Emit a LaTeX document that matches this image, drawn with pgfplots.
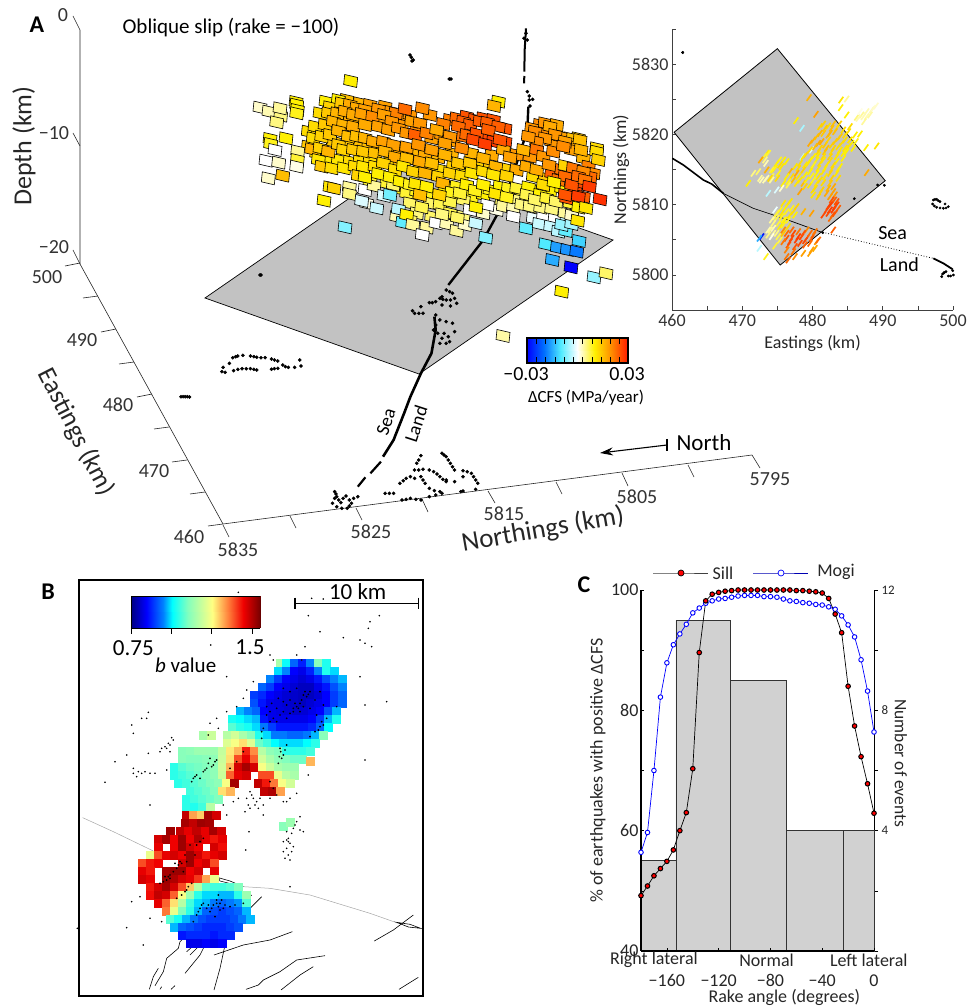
\documentclass[border=0pt]{standalone}
\usepackage{pgfplots}
\pgfplotsset{compat=1.18}
\usepackage{fontspec}
\usetikzlibrary{arrows.meta}
\setmainfont{Carlito}
\newcommand{\fs}[1]{\fontsize{#1}{#1}\selectfont}
\pgfdeclareplotmark{para}{\pgfpathmoveto{\pgfqpoint{-6pt}{6.5pt}}\pgfpathlineto{\pgfqpoint{7pt}{3.5pt}}\pgfpathlineto{\pgfqpoint{6pt}{-6.5pt}}\pgfpathlineto{\pgfqpoint{-7pt}{-3.5pt}}\pgfpathclose\pgfusepathqfillstroke}
\pgfdeclareplotmark{slip}{\pgfpathmoveto{\pgfqpoint{-2.3pt}{-3.2pt}}\pgfpathlineto{\pgfqpoint{2.3pt}{3.2pt}}\pgfusepathqstroke}
\pgfplotsset{
 colormap={cfs}{rgb255=(0,0,255) rgb255=(0,110,255) rgb255=(80,235,255) rgb255=(255,255,255) rgb255=(255,240,0) rgb255=(255,140,0) rgb255=(255,25,0)},
 colormap={jb}{rgb255(0pt)=(0,0,130) rgb255(12pt)=(0,0,255) rgb255(25pt)=(0,130,255) rgb255(32pt)=(0,255,255) rgb255(44pt)=(130,255,190) rgb255(63pt)=(255,255,130) rgb255(75pt)=(255,130,60) rgb255(87pt)=(240,0,0) rgb255(100pt)=(120,0,0)},
 pix/.style={hide axis,clip=false,scale only axis,anchor=south west,enlargelimits=false,y dir=reverse,axis line style={draw=none}},
 squares/.style={scatter,only marks,mark=para,point meta=explicit,line width=0.6pt,scatter/use mapped color={draw=black,fill=mapped color}},
 slips/.style={scatter,only marks,mark=slip,point meta=explicit,line width=1.7pt,scatter/use mapped color={draw=mapped color}},
 dots/.style={only marks,mark=*,mark size=1.6pt,black,mark options={draw=none,fill=black}},
}
\begin{document}
\begin{tikzpicture}
\path[use as bounding box] (0pt,0pt) rectangle (969pt,1006pt);

% ---------- base pixel axis: panel A frame and labels
\begin{axis}[pix,at={(0pt,0pt)},width=969pt,height=1006pt,xmin=0,xmax=969,ymin=0,ymax=1006]
\addplot[black!85,line width=0.6pt] coordinates {(73,16)(80,30)(80,264)(223,524)(752,455)};
\addplot[black!85,line width=0.6pt] coordinates {(73,133)(80,146)};
\addplot[black!85,line width=0.6pt] coordinates {(73,250)(80,264)};
\addplot[black!85,line width=0.6pt] coordinates {(65,266)(80,263)};
\addplot[black!85,line width=0.6pt] coordinates {(83,298)(98,296)};
\addplot[black!85,line width=0.6pt] coordinates {(101,332)(116,329)};
\addplot[black!85,line width=0.6pt] coordinates {(119,364)(134,362)};
\addplot[black!85,line width=0.6pt] coordinates {(137,397)(152,394)};
\addplot[black!85,line width=0.6pt] coordinates {(154,429)(169,427)};
\addplot[black!85,line width=0.6pt] coordinates {(172,462)(187,460)};
\addplot[black!85,line width=0.6pt] coordinates {(190,494)(205,492)};
\addplot[black!85,line width=0.6pt] coordinates {(208,526)(223,524)};
\addplot[black!85,line width=0.6pt] coordinates {(223,525)(229,537)};
\addplot[black!85,line width=0.6pt] coordinates {(290,516)(296,528)};
\addplot[black!85,line width=0.6pt] coordinates {(356,508)(362,520)};
\addplot[black!85,line width=0.6pt] coordinates {(422,499)(428,512)};
\addplot[black!85,line width=0.6pt] coordinates {(488,491)(495,503)};
\addplot[black!85,line width=0.6pt] coordinates {(556,482)(562,494)};
\addplot[black!85,line width=0.6pt] coordinates {(622,473)(628,486)};
\addplot[black!85,line width=0.6pt] coordinates {(688,465)(694,477)};
\addplot[black!85,line width=0.6pt] coordinates {(752,455)(760,468)};
\addplot[fill=black!24,draw=black,line width=0.7pt] coordinates {(205,298)(419,374)(613,240)(399,164)} -- cycle;
\addplot[black,line width=1.1pt,-{Stealth[length=13pt,width=8pt]}] coordinates {(667,445)(600,453)};
\addplot[black,line width=1.1pt] coordinates {(667,439)(667,451)};
\node[font=\fs{24}\bfseries] at (37,25) {A};
\node[font=\fs{21}] at (231,28) {Oblique slip (rake = −100)};
\node[font=\fs{26},rotate=90,text=black!85] at (24,146) {Depth (km)};
\node[font=\fs{26},rotate=-63,text=black!85] at (76,432) {Eastings (km)};
\node[font=\fs{27},rotate=10,text=black!85] at (543,530) {Northings (km)};
\node[font=\fs{20},text=black!80] at (63,15) {0};
\node[font=\fs{20},text=black!80] at (54,133) {−10};
\node[font=\fs{20},text=black!80] at (54,247) {−20};
\node[font=\fs{20},text=black!80] at (47,277) {500};
\node[font=\fs{20},text=black!80] at (82,340) {490};
\node[font=\fs{20},text=black!80] at (118,405) {480};
\node[font=\fs{20},text=black!80] at (154,471) {470};
\node[font=\fs{20},text=black!80] at (189,537) {460};
\node[font=\fs{20},text=black!80] at (238,550) {5835};
\node[font=\fs{20},text=black!80] at (371,532) {5825};
\node[font=\fs{20},text=black!80] at (504,514) {5815};
\node[font=\fs{20},text=black!80] at (637,497) {5805};
\node[font=\fs{20},text=black!80] at (770,479) {5795};
\node[font=\fs{23}] at (704,443) {North};
\node[font=\fs{19},rotate=72] at (386,422) {Sea};
\node[font=\fs{19},rotate=72] at (416,424) {Land};
\node[font=\fs{20}] at (526,374) {−0.03};
\node[font=\fs{20}] at (627,374) {0.03};
\node[font=\fs{17}] at (586,398) {ΔCFS (MPa/year)};
\node[font=\fs{24}\bfseries] at (48,592) {B};
\node[font=\fs{24}\bfseries] at (584,585) {C};
\end{axis}

% ---------- panel A fault planes (coordinates of a 3x crop of the region)
\begin{axis}[pix,at={(250pt,696pt)},width=370pt,height=240pt,xmin=0,xmax=1110,ymin=0,ymax=720,colormap name=cfs,point meta min=-3,point meta max=3]
\addplot[squares] coordinates {
(250,108)[1.2](290,90)[1.5](330,100)[1.6](360,105)[1.8](405,110)[1.8](420,125)[1.9](450,145)[2](480,135)[1.9](540,135)[1.9](600,150)[2.1](620,145)[2.3](650,140)[2.5](675,150)[2.5](700,145)[2.5](730,150)[2.5](765,175)[2.5]
(870,165)[2](885,160)[1.9](920,165)[1.7](985,205)[1.4](1040,235)[1.2](960,205)[1.5]
(175,185)[1.2](205,185)[1.3](270,150)[1.5](300,155)[1.7](330,150)[1.7](355,150)[1.8](400,160)[1.8](455,165)[1.9](500,175)[2](545,205)[1.8](575,195)[1.9](610,215)[1.8](640,200)[2.2](700,205)[2.6](730,215)[2.7](765,215)[2.6](845,175)[1.9](875,190)[2](905,215)[1.9](930,200)[1.8](970,230)[1.7]
(175,230)[1.4](200,250)[1.2](250,215)[1.4](300,225)[1.4](330,225)[1.5](355,235)[1.5](385,230)[1.6](415,235)[1.7](450,245)[1.7](490,250)[1.6](525,250)[1.7](565,262)[1.6](605,250)[1.6](665,250)[1.6](725,255)[1.7](760,240)[1.7](800,255)[1.9](840,260)[1.9](965,240)[1.8](1000,265)[1.6](1015,290)[2.1](1030,310)[2]
(230,270)[1.1](265,270)[1.1](300,275)[1.2](330,270)[1.2](360,270)[1.2](420,280)[1.3](450,275)[1.5](510,295)[1.3](540,300)[1.4](575,300)[1.2](610,290)[1.3](650,295)[1.2](690,285)[1.3](720,290)[1.4](760,295)[1.3](800,300)[1.7](850,320)[1.2](885,325)[1.4](905,310)[2.4](935,300)[2.2](955,315)[2.5](1020,320)[2.3](1000,345)[2.6](975,365)[2.6]
(360,335)[.8](410,340)[.8](440,355)[.9](470,370)[.8](500,365)[.9](540,370)[.9](585,350)[1](620,350)[.9](665,380)[.9](700,375)[1](720,360)[.9](750,350)[1](775,355)[.9](815,375)[.8](850,360)[1](900,360)[1](935,355)[1](960,400)[.8](1000,380)[2.4](755,400)[.6](800,390)[.5](480,400)[.6](540,400)[.6](570,405)[.7](640,390)[.6](430,345)[.6]
(350,400)[.1](440,440)[.3](500,430)[.5](545,440)[.6](600,430)[.7](640,440)[.5](480,450)[.6](700,430)[.2](740,420)[.1](850,445)[-.1](880,440)[0](915,445)[0](950,450)[-.3](760,410)[.4](790,415)[.3]
};
\addplot[squares] coordinates {
(30,113)[.2](57,125)[.3](92,137)[.5](80,157)[.5](90,115)[.4](138,96)[1](140,104)[1](142,120)[1](140,130)[.9]
(60,207)[1](62,222)[.9](108,205)[1](75,240)[0](48,272)[0](86,278)[.2](143,244)[.4](142,270)[.8](140,290)[.1](55,325)[.2](98,317)[1.5]
(240,352)[1.1](252,355)[1.3](298,352)[.4](298,372)[.5](222,392)[1](335,393)[-.2](380,415)[-.3](345,360)[0](372,348)[.4](402,378)[-.2](420,375)[-.8](445,418)[-.4]
(285,472)[-.7](458,458)[-.9](470,435)[1](488,465)[.4](530,473)[.4](517,495)[0](558,460)[0](590,462)[.3](620,483)[.4](645,465)[.2](622,443)[.6](576,433)[.5](515,412)[.7](600,395)[.7]
(677,460)[-.3](707,503)[-.7](712,405)[0](660,420)[0](790,440)[0](828,475)[-.9](868,462)[-.3](902,470)[-.3](925,485)[-.4](947,483)[-.9](935,465)[-.6](965,462)[-.5]
(815,405)[.5](840,410)[.5](872,413)[.5](905,417)[.5](945,430)[.4](965,437)[.2](983,452)[1.1](887,523)[-1](922,533)[-1.6](952,540)[-1.7](980,545)[-1.9](987,513)[-1.2](907,570)[-1.5](963,592)[-3](1032,622)[-.6](1068,610)[.6](935,665)[1](759,798)[.35]
(745,95)[1](732,108)[1.6](302,33)[1]
(228,95)[1](265,90)[1](240,112)[1.3](275,100)[1.4](300,105)[1.7](320,115)[1.7](345,120)[1.8](385,118)[1.9](437,130)[2.1](465,118)[2.3](517,115)[2]
(210,130)[1.2](235,130)[1.4](262,130)[1.6](285,125)[1.7](310,135)[1.7](335,132)[1.8](368,140)[2](402,135)[1.8](425,155)[1.9](485,155)[1.8](510,160)[1.9](580,162)[2.1]
(640,155)[2.4](660,165)[2.4](690,155)[2.4](712,158)[2.4](745,170)[2.4](625,170)[2.3](855,185)[2](900,170)[1.7]
(195,170)[1.2](225,165)[1.4](250,155)[1.6](280,165)[1.6](310,170)[1.7](345,165)[1.7](385,170)[1.8](415,180)[1.8](445,175)[1.9](470,190)[1.9](495,195)[2.4](530,190)[2.1](560,180)[1.7](600,200)[1.9](650,195)[2.3](680,192)[2.5](715,180)[2.4]
(915,195)[1.9](885,205)[1.9](860,215)[2](835,200)[1.9](945,215)[1.8](990,210)[1.5]
(190,205)[1.2](215,200)[1.3](240,195)[1.4](265,183)[1.6](295,200)[1.5](320,200)[1.5](345,205)[1.6](370,215)[1.7](400,215)[1.8](430,225)[1.8](470,232)[1.8](505,225)[1.9](545,240)[1.8](585,220)[1.8](635,235)[2](670,210)[2.6](705,222)[2.7](750,210)[2.5]
(185,238)[1.6](210,235)[1.3](235,245)[1.6](265,225)[1.4](280,240)[1.3](310,240)[1.4](340,245)[1.4](375,250)[1.5](405,245)[1.6](435,262)[1.7](470,265)[1.5](510,275)[1.7](545,280)[1.5](585,255)[1.6](625,280)[1.4](660,280)[1.4](700,265)[1.6](737,290)[1.6](780,262)[1.8](820,240)[1.6](860,240)[2.2](880,260)[1.9](910,245)[2](940,230)[2](993,240)[1.6](1040,245)[1.2](1045,270)[1.3]
(205,270)[1.1](215,290)[1.4](245,295)[1.2](282,295)[1.1](315,290)[1.2](340,290)[1.1](375,290)[1.2](400,280)[1.3](435,300)[1.2](460,290)[1.1](490,305)[1.3](525,310)[1.6](565,320)[1.3](600,310)[1.3](635,318)[1.2](665,310)[1.1](700,305)[1.2](730,315)[1.1](770,318)[1.3](830,290)[1.7](860,300)[1.7](897,285)[1.9](945,288)[1.3](970,295)[2.2](1000,305)[2]
(925,330)[2.2](945,320)[2.3](965,345)[2.5](985,320)[2.3](1005,330)[2.2]
(325,318)[1.3](345,322)[1](385,312)[1](420,322)[1](450,335)[1](480,345)[.9](497,342)[1.1](530,350)[1](578,340)[1.6](605,368)[.9](630,370)[.8](650,345)[1](675,362)[.9](700,345)[1](737,372)[1.1](770,382)[.9](800,355)[.8](835,352)[1](880,345)[1.2](870,375)[1](912,337)[1]
(510,375)[1.5](568,375)[1.3](678,412)[1](830,375)[.7](855,390)[.6](890,385)[.8](918,395)[.6](950,385)[2.5](945,375)[2.5](985,380)[2.7](1018,350)[2.7](1050,388)[2.8](986,413)[1](1008,414)[1.1]
};
\addplot[black,line width=2.4pt] coordinates {(835,110)(832,180)(800,280)(760,400)(700,510)(595,645)};
\addplot[black,line width=2pt] coordinates {(828,-125)(824,-60)(823,5)};
\addplot[black,line width=2pt] coordinates {(823,18)(822,40)};
\addplot[dots] coordinates {(480,-45)(484,-38)(486,-27)(490,-30)(603,27)(598,27)(33,615)(30,615)(838,90)(848,88)(838,78)(832,65)(828,-110)(822,-95)(832,-90)(840,108)};
\end{axis}

% ---------- panel A coast fragments
\begin{axis}[pix,at={(0pt,436pt)},width=660pt,height=290pt,xmin=0,xmax=1568,ymin=0,ymax=870]
\addplot[black,line width=2.6pt] coordinates {(1032,110)(1035,150)(1025,220)(1000,280)(975,350)(960,400)(935,480)(910,530)};
\addplot[black,line width=2.2pt] coordinates {(905,545)(880,580)};
\addplot[black,line width=2.2pt] coordinates {(868,592)(850,620)};
\addplot[dots] coordinates {(527,275)(530,262)(545,250)(553,233)(560,230)(565,228)(577,226)(595,228)(603,230)(610,232)(620,233)(630,233)(645,237)(652,240)(660,243)(672,255)(678,260)(685,262)(700,262)(715,258)(712,240)(660,265)(652,266)(645,268)(610,270)(603,268)(595,266)(585,266)(575,266)(565,268)(555,272)(535,277)
(430,350)(435,350)(440,350)(445,350)(450,351)
(1060,30)(1068,35)(1075,40)(1080,55)(1085,70)(1060,60)(1052,58)(1045,55)(1035,65)(1050,75)(1070,78)(1027,68)(1020,68)(1000,80)(980,92)(985,100)(995,100)(1005,100)(1035,105)(1045,120)(1035,135)(1060,125)(1075,130)(1080,155)(1040,160)(1050,175)(1065,170)(1060,190)(1045,190)(1030,150)(1055,160)(1068,185)(1050,50)(1070,60)
(1050,520)(1055,525)(1060,530)(1065,540)(1070,550)(1075,560)(1080,570)(1100,572)(1110,575)(1120,580)(1125,590)(1130,600)(1135,610)(1000,527)(995,540)(990,550)(985,570)(995,570)(1005,568)(1020,570)(1030,575)(1038,582)(1045,590)(1052,598)(1060,605)(1080,605)(1100,590)(1000,590)(1005,600)(1010,610)(1020,625)(1032,632)(1045,635)(1060,600)(965,595)(958,602)(950,610)(935,640)(925,640)(915,640)(955,660)(965,658)(975,655)(988,658)(1000,660)(1020,650)(1035,645)(1050,640)(1095,635)(1100,633)(1130,628)(975,590)(985,595)
(795,635)(798,642)(800,650)(815,655)(830,660)(840,655)(850,650)(835,670)(830,678)(825,685)(812,685)(800,680)(790,670)(810,668)(795,655)(822,648)(805,660)};
\end{axis}

% ---------- colour bar of panel A
\begin{axis}[scale only axis,at={(527pt,643pt)},anchor=south west,width=101pt,height=25pt,xmin=-3,xmax=3,ymin=0,ymax=1,colormap name=cfs,point meta min=-3,point meta max=3,axis on top,
 xtick={-2.45,-1.9,-1.35,-.8,-.25,.3,.85,1.4,1.95,2.5},ytick=\empty,xticklabels={},tick align=inside,xtick pos=both,major tick length=6pt,tick style={black,line width=0.5pt},axis line style={line width=1.3pt}]
\addplot[patch,patch type=rectangle,shader=interp,point meta=x] coordinates {(-3,0)(3,0)(3,1)(-3,1)};
\end{axis}

% ---------- inset of panel A
\begin{axis}[scale only axis,at={(672pt,696pt)},anchor=south west,width=281pt,height=281pt,xmin=460,xmax=500,ymin=5795,ymax=5835,clip=false,
 axis lines=left,axis line style={-,black!75,line width=0.9pt},tick style={black!75,line width=0.6pt},tick align=inside,major tick length=4pt,
 xtick={460,465,...,500},xticklabels={460,,470,,480,,490,,500},ytick={5795,5800,...,5835},yticklabels={,5800,,5810,,5820,,5830,},
 ticklabel style={font=\fs{18},text=black!80},xticklabel style={yshift=-1pt},
 xlabel={Eastings (km)},ylabel={Northings (km)},label style={font=\fs{18},text=black!85},xlabel style={yshift=-2pt},ylabel style={yshift=-4pt}]
\addplot[fill=black!24,draw=black,line width=0.8pt] coordinates {(460.3,5820.3)(475,5832.2)(490.35,5813.4)(475.4,5801.4)} -- cycle;
\end{axis}
\begin{axis}[pix,at={(640pt,650pt)},width=329pt,height=356pt,xmin=0,xmax=987,ymin=0,ymax=1068,colormap name=cfs,point meta min=-3,point meta max=3]
\addplot[slips] coordinates {
(507,293)[1.6](603,300)[1.1](620,297)[.4](602,323)[1](620,345)[1](650,352)[.5](665,345)[.4](680,350)[.3](695,330)[.3](708,318)[.2](672,365)[.4](528,343)[1.8](468,362)[1](486,385)[-.5](550,372)[1.3](565,378)[1.2](580,372)[1.5](598,372)[1.3](630,380)[1.2](645,405)[1](660,402)[1](648,425)[.9](678,443)[1](710,438)[1.1]
(655,355)[.3](680,335)[.3](700,325)[.2](690,345)[.35](670,350)[.3](660,335)[.1]
(380,460)[1](372,470)[.8](362,480)[1.7](378,490)[.3](440,485)[1](418,480)[.9](487,470)[-.4](497,465)[1.3](515,450)[-.2]
(385,460)[.8](375,480)[.5](395,510)[.8](405,505)[1](430,480)[1](420,495)[1.2](365,540)[.3](380,535)[.3](395,540)[.4]
(540,380)[1.3](555,385)[1.4](575,385)[1.5](590,385)[1.2](610,390)[1.2](625,395)[1.1](540,400)[1.6](520,420)[1.6](535,430)[1.7](555,435)[1.4](575,435)[1.3](595,440)[1.2](615,445)[1.1](635,430)[1](565,405)[1.5](595,415)[1.3](615,420)[1.2](575,455)[1.2](595,460)[1.1](555,455)[1.4](535,455)[1.2](510,450)[1.2](490,470)[1.1](510,480)[1](530,480)[1](550,480)[1.1](570,482)[1.2](590,485)[1](610,460)[1](495,495)[1.1](515,505)[1](535,505)[1.1](555,505)[1](575,508)[1.2](595,508)[1](475,505)[1.2](455,530)[1.2](475,530)[1.1](495,525)[1](515,528)[.9](535,530)[1.1](555,530)[1.1](575,535)[1.3](595,535)[1.2](445,545)[.9](470,550)[1.1](490,550)[1.5](510,555)[1.1](530,550)[1.1](550,548)[1.2](570,550)[1.4](580,560)[1.7](520,570)[1.2](540,580)[1.3](560,580)[1.7](570,590)[1.8](585,585)[1.9]
(530,410)[1.5](550,400)[1.4](570,400)[1.6](585,395)[1.5](600,410)[1.4](615,405)[1.2](630,420)[1.1](640,445)[1](545,425)[1.7](565,420)[1.3](585,425)[1.4](605,430)[1.2](625,440)[1.1]
(510,430)[1.7](525,440)[1.5](540,445)[1.3](560,445)[1.5](580,445)[1.3](600,450)[1.1](620,455)[1](520,470)[1](535,465)[1.1](550,470)[1.2](570,470)[1.3](590,470)[1.1](610,475)[1]
(505,490)[1.1](520,495)[.9](540,490)[1.2](560,495)[1.1](580,495)[1.2](600,500)[1](490,510)[1.3](510,515)[1](530,520)[1](550,515)[1.1](570,520)[1.3](590,520)[1.1](465,500)[1.1](480,490)[1.2](450,515)[1.6](470,520)[1.7](460,540)[1.5](480,540)[1.1](500,540)[1](520,540)[.9](540,540)[1.2](440,530)[1](430,550)[1](445,555)[.7]
(525,565)[1.2](545,570)[1.3](565,565)[1.6](580,575)[1.8](520,585)[1.1](535,590)[1.3](480,575)[1.8](495,560)[1.3](680,518)[1.7]
(410,490)[1](425,500)[1.1](400,510)[.9](415,520)[.9](380,510)[1.6](395,530)[.7](360,535)[.4](375,540)[.3](390,535)[1.2](412,535)[1.2](340,520)[.5](355,515)[.6](325,550)[1](385,580)[-.4](410,570)[-.2](425,565)[.2]
(575,610)[2.6](585,620)[2.7](570,630)[2.7](590,605)[2.5](578,645)[2.5](565,620)[2.6](595,625)[2.4](572,655)[2.3](583,600)[2.4](550,645)[2.6](570,615)[2.7](580,630)[2.7](590,615)[2.6](565,640)[2.6](585,640)[2.5](575,600)[2.5](560,630)[2.6]
(445,610)[1.1](435,625)[1](420,630)[.9](405,650)[.6](415,670)[.8](430,675)[.9](445,680)[1.2](400,685)[.3](385,690)[.3](400,700)[.4](415,710)[.7](435,660)[1](450,645)[1.1](460,635)[1.2](410,640)[.8](395,660)[.4](425,650)[.9]
(515,640)[1.8](490,635)[1.6](470,620)[1.3](450,605)[1.1](430,610)[1.1](455,625)[.9](440,635)[.9](425,640)[1.1](465,645)[1](410,655)[.7](430,660)[.9](405,630)[-.1](420,680)[1](400,670)[.5](390,690)[.4](445,660)[.9](395,710)[.1](410,700)[.5](420,720)[.7](405,738)[.8](385,705)[.5](430,700)[1.4]
(365,710)[-2.8](358,715)[-1.5](358,745)[-.4](378,770)[.9]
(440,700)[2.3](455,715)[2.6](470,720)[2.7](485,710)[2.6](500,715)[2.5](520,705)[2.3](445,735)[2.4](465,740)[2.5](480,730)[2.6](495,735)[2.4](440,750)[2.1](460,755)[2.2](510,730)[2.3](430,690)[2](475,695)[2.2](500,690)[2](525,695)[2.2](515,750)[1.8](490,760)[1.8](530,725)[1.9](445,780)[2.3](580,690)[2.4]
(510,760)[1.8](525,745)[1.7](440,770)[2.2](465,770)[2](535,720)[2.3](455,690)[2.3](490,700)[2.5](510,700)[2.3](460,700)[2.6](440,715)[2.5](430,725)[2.2](450,725)[2.6](475,710)[2.7](495,722)[2.6](515,715)[2.4]
};
\addplot[black,line width=1.6pt] coordinates {(97,475)(130,495)(190,540)(215,552)(250,580)};
\addplot[black,line width=0.7pt] coordinates {(250,580)(340,625)(430,655)(540,695)};
\addplot[black,dotted,line width=0.8pt] coordinates {(540,695)(730,740)(880,775)};
\addplot[black,line width=1.8pt] coordinates {(880,775)(910,790)(938,808)};
\addplot[dots,mark size=1.2pt] coordinates {(128,157)(128,158)(643,596)(713,555)(733,556)(548,698)
(880,600)(885,598)(890,598)(895,602)(900,605)(915,612)(925,620)(918,624)(910,625)(900,624)(890,622)(883,618)(878,612)
(905,830)(908,822)(913,818)(918,815)(938,812)(940,825)(932,828)(925,828)(912,818)};
\node[font=\fs{20}] at (758,700) {Sea};
\node[font=\fs{20}] at (778,793) {Land};
\end{axis}

% ---------- panel B frame
\begin{axis}[pix,at={(70pt,0pt)},width=370pt,height=431pt,xmin=0,xmax=1110,ymin=0,ymax=1293,colormap name=jb,point meta min=0,point meta max=100]
\addplot[scatter,only marks,mark=square*,mark size=4pt,point meta=explicit,line width=0pt,scatter/use mapped color={draw=mapped color,fill=mapped color}] coordinates {
(630,264)[50](648,264)[33](672,264)[22](696,264)[15](720,264)[25](744,264)[45](768,264)[35]
(624,288)[30](648,288)[25](672,288)[12](696,288)[10](720,288)[15](744,288)[25](768,288)[35](792,288)[30]
(600,312)[25](624,312)[18](648,312)[12](672,312)[10](696,312)[8](720,312)[10](744,312)[14](768,312)[20](792,312)[25](816,312)[28]
(576,336)[22](600,336)[18](624,336)[12](648,336)[10](672,336)[8](696,336)[6](720,336)[6](744,336)[10](768,336)[14](792,336)[20](816,336)[25]
(552,360)[18](576,360)[16](600,360)[12](624,360)[10](648,360)[8](672,360)[7](696,360)[6](720,360)[6](744,360)[8](768,360)[12](792,360)[18](816,360)[22]
(552,384)[20](576,384)[14](600,384)[10](624,384)[9](648,384)[8](672,384)[7](696,384)[6](720,384)[8](744,384)[10](768,384)[12](792,384)[18](816,384)[22]
(512,408)[28](536,408)[25](560,408)[22](584,408)[12](608,408)[10](632,408)[9](656,408)[8](680,408)[7](704,408)[8](728,408)[10](752,408)[12](776,408)[20](800,408)[28]
(488,432)[34](512,432)[32](536,432)[30](560,432)[28](584,432)[14](608,432)[10](632,432)[10](656,432)[10](680,432)[10](704,432)[10](728,432)[12](752,432)[18](776,432)[28](800,432)[35]
(488,456)[40](512,456)[36](536,456)[34](560,456)[30](584,456)[24](608,456)[18](632,456)[14](656,456)[14](680,456)[14](704,456)[14](728,456)[16](752,456)[22](776,456)[32]
(400,480)[50](424,480)[55](472,480)[52](496,480)[56](520,480)[50](544,480)[45](568,480)[35](592,480)[30](616,480)[24](640,480)[24](664,480)[22](688,480)[22](712,480)[24](736,480)[28](760,480)[45]
(472,504)[58](496,504)[62](520,504)[66](544,504)[58](568,504)[42](592,504)[38](616,504)[32](640,504)[30](664,504)[30](688,504)[30](712,504)[32](736,504)[36]
(336,528)[45](360,528)[46](384,528)[48](408,528)[48](432,528)[48](456,528)[54](480,528)[65](504,528)[70](528,528)[84](552,528)[74](576,528)[52](600,528)[46](624,528)[44](648,528)[36](672,528)[36](696,528)[36](720,528)[38]
(336,552)[45](360,552)[44](384,552)[44](408,552)[45](432,552)[46](456,552)[55](480,552)[66](504,552)[80](528,552)[88](552,552)[78](576,552)[56](600,552)[50](624,552)[46](648,552)[44](672,552)[42](696,552)[42](722,560)[70]
(312,576)[36](336,576)[40](360,576)[42](384,576)[43](408,576)[44](432,576)[46](456,576)[56](480,576)[70](504,576)[90](528,576)[95](552,576)[90](576,576)[62](600,576)[55](624,576)[50](648,576)[48](672,576)[48]
(312,600)[36](336,600)[38](360,600)[40](384,600)[42](408,600)[44](432,600)[46](456,600)[55](480,600)[78](504,600)[88](528,600)[90](576,600)[80](600,600)[80](624,600)[60](648,600)[52](672,600)[50]
(324,624)[36](348,624)[38](372,624)[40](396,624)[42](420,624)[44](444,624)[46](468,624)[62](492,624)[95](564,624)[92](588,624)[85](612,624)[76](636,624)[62](660,624)[56]
(360,648)[38](384,648)[40](408,648)[42](432,648)[44](456,648)[66](480,648)[70](584,648)[92](608,648)[94](632,648)[72]
(348,672)[36](372,672)[38](396,672)[40](420,672)[42](444,672)[44](348,696)[36](372,696)[35](396,696)[38](420,696)[52]
(640,755)[45](660,742)[48]
(350,720)[92](370,720)[72](394,720)[68](416,720)[95](440,720)[90](345,744)[95](370,744)[92](394,744)[96](418,744)[95]
(300,768)[96](330,768)[92](355,768)[88](380,768)[92](405,768)[88](430,768)[95](455,768)[90]
(264,792)[90](288,792)[95](312,792)[87](336,792)[96](360,792)[87](384,792)[94](408,792)[88](432,792)[85](456,792)[88]
(264,816)[88](312,816)[87](336,816)[96](360,816)[90](384,816)[87](432,816)[90](456,816)[86]
(240,840)[60](264,840)[80](288,840)[88](312,840)[90](336,840)[87](360,840)[96](384,840)[90](408,840)[85](432,840)[88](456,840)[90]
(216,864)[80](240,864)[85](264,864)[87](336,864)[90](360,864)[96](384,864)[87](408,864)[90](432,864)[80]
(216,888)[88](240,888)[85](288,888)[95](312,888)[96](336,888)[96](360,888)[87](384,888)[90](432,888)[88]
(216,912)[90](240,912)[88](288,912)[96](312,912)[94](336,912)[90](360,912)[88](384,912)[82](408,912)[72](432,912)[60]
(240,936)[85](264,936)[90](288,936)[95](312,936)[90](336,936)[80](360,936)[68](384,936)[52](408,936)[40](432,936)[38](456,936)[38](480,936)[40](504,936)[44]
(240,960)[86](264,960)[92](288,960)[90](312,960)[78](336,960)[62](360,960)[48](384,960)[36](408,960)[30](432,960)[30](456,960)[28](480,960)[28](504,960)[36](528,960)[48]
(264,984)[88](288,984)[78](312,984)[66](336,984)[52](360,984)[38](384,984)[30](408,984)[28](432,984)[24](456,984)[22](480,984)[24](504,984)[26](528,984)[40]
(288,1008)[76](312,1008)[60](336,1008)[44](360,1008)[36](384,1008)[28](408,1008)[22](432,1008)[20](456,1008)[18](480,1008)[20](504,1008)[22](528,1008)[28]
(300,1032)[40](324,1032)[34](348,1032)[28](372,1032)[24](396,1032)[20](420,1032)[18](444,1032)[18](468,1032)[18](492,1032)[20](516,1032)[24](540,1032)[28]
(312,1056)[28](336,1056)[22](360,1056)[20](384,1056)[18](408,1056)[16](432,1056)[16](456,1056)[16](480,1056)[18](504,1056)[20]
(336,1080)[14](360,1080)[16](384,1080)[16](408,1080)[16](432,1080)[14](456,1080)[16](480,1080)[16]
(360,1104)[10](384,1104)[10](408,1104)[12](432,1104)[10](456,1104)[12]
};
\addplot[black!35,line width=0.5pt] coordinates {(38,728)(130,770)(250,828)};
\addplot[black!35,line width=0.5pt] coordinates {(520,935)(600,940)(720,960)(900,1015)(985,1045)};
\addplot[black,fill=white,line width=0.6pt] coordinates {(445,908)(480,918)(520,935)(490,928)(450,918)} -- cycle;
\addplot[black,fill=white,line width=0.6pt] coordinates {(980,1042)(1020,1048)(1052,1060)(1015,1056)} -- cycle;
\addplot[black,line width=0.6pt] coordinates {(238,1243)(250,1205)(265,1180)};
\addplot[black,line width=0.6pt] coordinates {(255,1232)(280,1190)(290,1150)(325,1120)(330,1100)(345,1085)(390,1065)(400,1050)};
\addplot[black,line width=0.6pt] coordinates {(345,1195)(390,1140)(410,1100)(470,1050)(520,1020)(575,965)};
\addplot[black,line width=0.6pt] coordinates {(350,1130)(395,1090)(400,1060)(430,1030)(470,980)};
\addplot[black,line width=0.6pt] coordinates {(360,1140)(390,1110)};
\addplot[black,line width=0.6pt] coordinates {(335,1025)(370,980)(415,915)};
\addplot[black,line width=0.6pt] coordinates {(375,1050)(420,1010)(455,965)};
\addplot[black,line width=0.6pt] coordinates {(432,1245)(450,1180)(465,1110)};
\addplot[black,line width=0.6pt] coordinates {(432,1140)(520,1110)(600,1095)(667,1070)};
\addplot[black,line width=0.6pt] coordinates {(528,1243)(565,1230)(580,1215)(630,1190)(680,1155)(765,1142)};
\addplot[black,line width=0.6pt] coordinates {(633,1245)(690,1200)(730,1175)};
\addplot[black,line width=0.6pt] coordinates {(987,1243)(1045,1207)};
\addplot[black,line width=0.6pt] coordinates {(913,1098)(970,1065)(1030,1020)};
\addplot[black,line width=0.6pt] coordinates {(480,1000)(510,950)};
\addplot[black,line width=0.6pt] coordinates {(510,990)(545,960)};
\addplot[black,line width=0.6pt] coordinates {(270,1243)(275,1235)};
\addplot[black,line width=0.6pt] coordinates {(303,1243)(315,1232)};
% scattered events
\addplot[only marks,mark=*,mark size=0.6pt,mark options={draw=none,fill=black!45}] coordinates {
(505,52)(725,70)(760,72)(715,122)(900,140)(895,160)(928,122)(750,170)(820,188)(870,195)(885,205)(905,215)(705,215)(600,240)(610,255)(680,240)(695,255)(422,210)(470,305)(530,345)(550,320)(870,305)(950,380)(885,390)(800,395)
(520,370)(500,395)(470,410)(440,430)(420,445)(415,480)(445,460)(235,412)(215,430)(230,430)(185,450)(190,475)(305,488)(295,505)(290,520)(270,530)(300,530)(235,535)(170,540)(135,560)(190,580)(205,590)(200,605)(225,590)(255,595)(105,622)(240,690)
(310,495)(300,510)(285,515)(275,520)(190,595)(215,595)(240,595)(290,585)
(540,650)(550,670)(560,680)(535,690)(580,690)(600,670)(620,660)(650,680)(680,655)(540,700)(580,720)(470,720)(490,680)(460,690)(505,670)(545,660)(555,690)(570,670)(530,670)(640,680)(660,670)(565,700)(525,710)
(690,725)(680,740)(670,760)(700,770)(665,775)(655,790)(640,800)(660,805)(650,820)(670,815)(640,830)(660,855)(645,850)(537,770)(527,825)(885,555)(715,600)(660,935)(655,800)(650,795)(665,830)(655,840)(675,750)(690,765)(650,770)
(210,965)(185,980)(220,1110)(170,1058)(22,1060)(275,1040)(240,1030)
};
\addplot[only marks,mark=*,mark size=0.65pt,mark options={draw=none,fill=black!85,fill opacity=.7}] coordinates {
(640,340)(660,350)(680,340)(700,360)(720,350)(735,375)(710,365)(690,385)(670,400)(690,410)(650,390)(630,420)(610,430)(600,410)(650,430)(680,395)(700,395)(720,400)(740,420)(755,440)(745,465)(720,485)(770,430)(590,420)(580,460)(575,490)(640,380)(660,375)(625,370)(605,385)(750,350)(760,390)
(675,385)(685,400)(695,375)(705,350)(715,358)(670,410)(660,415)(640,410)(620,400)(590,395)(620,440)(600,440)(760,450)(750,455)(735,470)
(630,520)(640,540)(625,565)(650,510)(635,550)(628,545)(632,530)(645,525)(420,550)(430,570)(410,580)(440,555)(400,590)(380,600)(370,610)(390,610)(365,620)(415,565)(425,575)(435,560)(405,585)(375,605)(500,560)(480,580)(520,530)(600,620)(610,640)(575,470)
(330,860)(320,880)(300,900)(290,915)(350,860)(340,890)(310,890)(280,920)(360,810)(390,800)(375,840)(345,840)(365,925)(350,945)(335,960)(320,970)(270,925)(315,865)(335,865)(325,870)(300,910)(295,905)(285,905)(380,810)(400,790)(355,935)(345,950)
(400,985)(390,1000)(380,1020)(370,1040)(440,975)(430,990)(420,1010)(450,985)(465,990)(450,1005)(480,995)(410,1000)(435,1025)(495,990)(520,985)(445,960)(395,990)(385,1010)(440,985)(445,995)(455,975)(460,1000)(425,1000)(415,990)
};
\addplot[black,line width=1.6pt] coordinates {(675,85)(1045,85)};
\addplot[black,line width=1.6pt] coordinates {(675,68)(675,103)};
\addplot[black,line width=1.6pt] coordinates {(1045,68)(1045,103)};
\addplot[black,line width=1.8pt] coordinates {(28,15)(1058,15)(1058,1262)(28,1262)} -- cycle;
\node[font=\fs{23}] at (863,50) {10 km};
\node[font=\fs{23}] at (190,218) {0.75};
\node[font=\fs{23}] at (540,218) {1.5};
\node[font=\fs{21}] at (347,272) {\textit{b} value};
\end{axis}
\begin{axis}[scale only axis,at={(131pt,378pt)},anchor=south west,width=129pt,height=32pt,xmin=0,xmax=100,ymin=0,ymax=1,colormap name=jb,point meta min=0,point meta max=100,
 xtick={0,31.3,62.6,94},ytick=\empty,xticklabels={},tick align=outside,axis x line*=bottom,major tick length=6pt,tick style={black,line width=0.6pt},axis line style={black,line width=0.8pt}]
\addplot[patch,patch type=rectangle,shader=interp,point meta=x] coordinates {(0,0)(100,0)(100,1)(0,1)};
\addplot[black,line width=0.8pt] coordinates {(0,0)(0,1)(100,1)(100,0)};
\end{axis}

% ---------- panel C, events on right axis
\begin{axis}[scale only axis,at={(641pt,55pt)},anchor=south west,width=233pt,height=361pt,xmin=-180,xmax=0,ymin=0,ymax=12,clip=false,
 axis y line*=right,axis x line=none,ytick={0,2,...,12},yticklabels={,,4,,8,,12},tick align=outside,ytick style={black,line width=0.5pt},major tick length=4pt,
 yticklabel style={font=\fs{13},text=black!85},ylabel={Number of events},ylabel style={font=\fs{17.5},rotate=180,at={(axis description cs:1.115,0.52)},anchor=center,text=black!85}]
\addplot[ybar interval,fill=black!18,draw=black!80,line width=0.7pt] coordinates {(-180,3)(-153,11)(-111,9)(-67.5,4)(-24,4)(0,4)};
\end{axis}
\begin{axis}[scale only axis,at={(641pt,55pt)},anchor=south west,width=233pt,height=361pt,xmin=-180,xmax=0,ymin=40,ymax=100,clip=false,
 axis y line*=left,axis x line*=bottom,axis line style={-,black,line width=1.5pt},
 xtick={-160,-120,-80,-40,0},xticklabels={−160,−120,−80,−40,0},ytick={40,50,...,100},yticklabels={40,,60,,80,,100},
 tick align=inside,major tick length=3pt,tick style={black,line width=0.5pt},ticklabel style={font=\fs{18},text=black!85},xticklabel style={yshift=-20pt},yticklabel style={xshift=1pt},
 ylabel={\% of earthquakes with positive ΔCFS},ylabel style={font=\fs{18},at={(axis description cs:-0.185,0.5)},anchor=center,text=black!85},
 xlabel={Rake angle (degrees)},xlabel style={font=\fs{18},at={(axis description cs:0.615,-0.128)},anchor=center,text=black!85}]
\addplot[blue,line width=0.7pt,mark=*,mark size=2.3pt,mark options={fill=white,draw=blue,line width=0.9pt}] coordinates {
(-180,56.4)(-175,59.7)(-170,70)(-165,82.2)(-160,87.9)(-155,90.9)(-150,92.7)(-145,94.3)(-140,96.2)(-135,97)(-130,97.8)(-125,98.2)(-120,98.5)(-115,98.6)(-110,98.8)(-105,99)(-100,99.1)(-95,99.1)(-90,99.1)(-85,98.9)(-80,98.9)(-75,98.8)(-70,98.5)(-65,98.2)(-60,98.1)(-55,97.9)(-50,97.8)(-45,97.6)(-40,97.5)(-35,97.2)(-30,96.8)(-25,95.7)(-20,94.2)(-15,92.2)(-10,88.4)(-5,83.2)(0,76.4)};
\addplot[black,line width=0.7pt,mark=*,mark size=2.3pt,mark options={fill=red,draw=black,line width=1pt}] coordinates {
(-180,49.2)(-175,50.8)(-170,52.5)(-165,53.7)(-160,54.9)(-155,56.8)(-150,60)(-145,63)(-140,70.3)(-135,89.6)(-130,98.2)(-125,99.3)(-120,99.6)(-115,99.8)(-110,99.9)(-105,100)(-100,100)(-95,100)(-90,100)(-85,100)(-80,100)(-75,100)(-70,100)(-65,100)(-60,99.9)(-55,99.9)(-50,99.8)(-45,99.7)(-40,99.5)(-35,98.6)(-30,96)(-25,92.9)(-20,84)(-15,77.4)(-10,72.3)(-5,67.8)(0,62.9)};
\node[font=\fs{18},text=black!85] at (axis cs:-170,38.5) {Right lateral};
\node[font=\fs{18},text=black!85] at (axis cs:-83,38.5) {Normal};
\node[font=\fs{18},text=black!85] at (axis cs:-4,38.5) {Left lateral};
\end{axis}
% ---------- legend of panel C
\begin{axis}[pix,at={(0pt,0pt)},width=969pt,height=1006pt,xmin=0,xmax=969,ymin=0,ymax=1006]
\addplot[black!75,line width=0.8pt,mark=*,mark size=3pt,mark options={fill=red,draw=black,line width=0.7pt},mark indices={2}] coordinates {(653,573)(681,573)(708,573)};
\addplot[blue!70!black,line width=0.8pt,mark=*,mark size=3pt,mark options={fill=white,draw=blue,line width=0.7pt},mark indices={2}] coordinates {(753,573)(781,573)(808,573)};
\node[font=\fs{18},text=black!85] at (723,573) {Sill};
\node[font=\fs{18},text=black!85] at (836,572) {Mogi};
\end{axis}
\end{tikzpicture}
\end{document}
